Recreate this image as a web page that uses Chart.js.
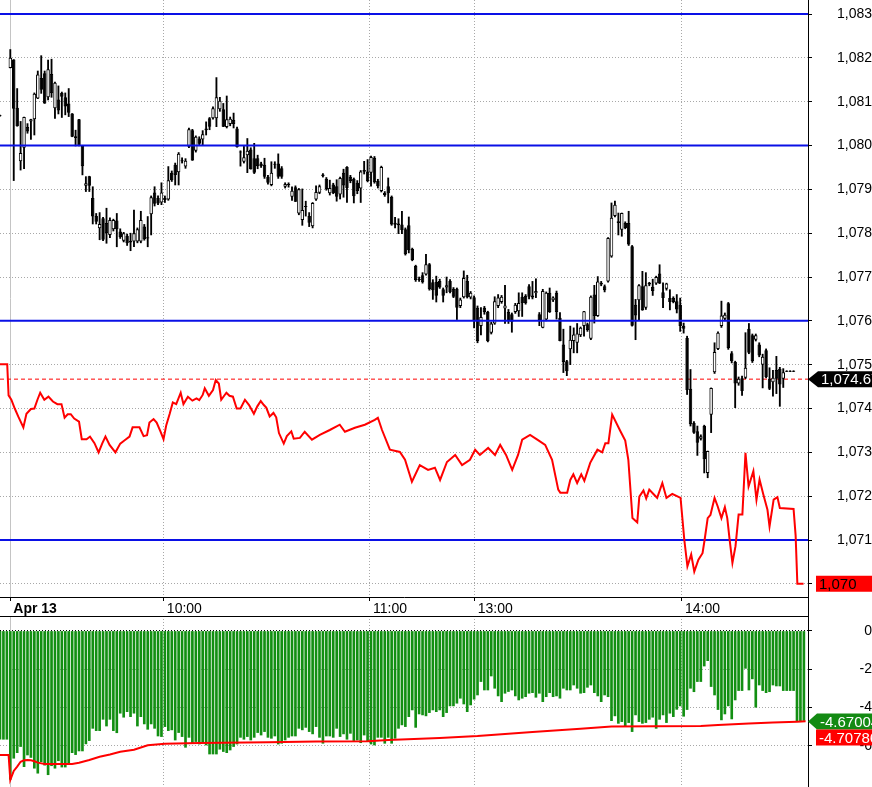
<!DOCTYPE html>
<html>
<head>
<meta charset="utf-8">
<script src="https://cdn.jsdelivr.net/npm/chart.js@4.4.0/dist/chart.umd.min.js"></script>
<style>
  html, body { margin: 0; padding: 0; background: #fff; overflow: hidden; }
  #price { position: absolute; left: 0; top: 0; }
  #osc { position: absolute; left: 0; top: 616px; }
</style>
</head>
<body>
<canvas id="price" width="872" height="616"></canvas>
<canvas id="osc" width="872" height="171"></canvas>
<script>
// time axis (bar numbers)
var timeTicks = [3, 47.7, 107.7, 138.2, 198.5];
var timeLabels = ['Apr 13', '10:00', '11:00', '13:00', '14:00'];

// price panel
var priceTicks = [1070, 1071, 1072, 1073, 1074, 1075, 1076, 1077, 1078, 1079, 1080, 1081, 1082, 1083];
var levels = [1083, 1080, 1076, 1071];
var lastPrice = 1074.67;

var openP = [
  1080.67, null, null, 1081.77, 1081.96, 1080.86, 1079.64, 1079.95, 1080.42, 1080.55,
  1080.6, 1081.07, 1081.54, 1081.65, 1081.1, 1081.63, 1080.85, 1081.05, 1081.2, 1081.1,
  1080.96, 1080.73, 1080.21, 1080.6, 1079.99, 1079.08, 1079.3, 1078.8, 1078.39, 1078.11,
  1078.34, 1078.23, 1077.96, 1078.09, 1078.29, 1078.04, 1077.83, 1077.94, 1077.79, 1077.81,
  1077.81, 1077.81, 1078.15, 1077.88, 1078.43, 1078.93, 1078.8, 1078.7, 1078.76, 1078.77,
  1079.38, 1079.56, 1079.39, 1079.66, 1079.52, 1079.97, 1080.35, 1079.88, 1080.16, 1080.14,
  1080.39, 1080.62, 1080.62, 1080.62, 1080.83, 1080.83, 1080.42, 1080.49, 1080.58, 1080.39,
  1079.86, 1079.63, 1079.78, 1079.91, 1079.71, 1079.71, 1079.59, 1079.56, 1079.29, 1079.1,
  1079.56, 1079.59, 1079.48, 1079.06, 1079.1, 1078.83, 1079.05, 1078.45, 1078.3, 1078.6,
  1078.39, 1078.16, 1078.77, 1078.92, 1079.34, 1079.24, 1078.91, 1079.11, 1079.07, 1078.88,
  1079.38, 1079.51, 1079.29, 1079.24, 1079.15, 1079.02, 1079.44, 1079.41, 1079.38, 1079.72,
  1079.19, 1078.96, 1078.92, 1079.07, 1078.83, 1078.24, 1078.22, 1078.2, 1078.09, 1078.18,
  1077.64, 1077.25, 1076.96, 1077.04, 1077.06, 1077.29, 1076.88, 1076.89, 1076.91, 1076.72,
  1076.76, 1076.91, 1076.73, 1076.73, 1076.34, 1076.54, 1076.91, 1076.53, 1076.54, 1076.3,
  1075.88, 1076.3, 1076.2, 1075.73, 1075.94, 1076.34, 1076.43, 1076.28, 1076.2, 1076.15,
  1076.2, 1076.22, 1076.55, 1076.57, 1076.79, 1076.58, 1076.63, 1076.15, 1075.84, 1076.03,
  1076.64, 1076.47, 1076.64, 1076.07, 1075.46, 1075.08, 1075.35, 1075.54, 1075.5, 1075.67,
  1075.88, 1075.92, 1075.59, 1076.6, 1076.11, 1076.83, 1076.79, 1076.9, 1077.47, 1078.39,
  1078.27, 1078.08, 1078.23, 1078.23, 1077.7, 1076.37, 1076.47, 1076.79, 1076.3, 1076.83,
  1076.78, 1076.85, 1077.08, 1076.65, 1076.73, 1076.52, 1076.52, 1076.45, 1076.37, 1075.89,
  1075.61, 1074.45, 1073.67, 1073.48, 1073.31, 1073.6, 1072.53, 1073.86, 1074.83, 1075.36,
  1075.88, 1076.05, 1076.4, 1075.26, 1075.06, 1074.57, 1074.69, 1074.7, 1075.82, 1075.67,
  1075.57, 1075.46, 1075.0, 1075.33, 1074.68, 1074.6, 1074.88, 1074.91, 1074.68, 1074.84,
  1074.84, 1074.84, null, null, null
];
var highP = [
  1080.67, null, null, 1082.19, 1081.96, 1081.3, 1080.55, 1080.65, 1080.5, 1080.6,
  1081.2, 1081.7, 1082.05, 1081.7, 1081.95, 1081.97, 1081.45, 1081.36, 1081.22, 1081.2,
  1081.3, 1080.73, 1080.35, 1080.6, 1080.0, 1079.29, 1079.3, 1079.06, 1078.45, 1078.47,
  1078.36, 1078.57, 1078.35, 1078.32, 1078.45, 1078.1, 1078.02, 1077.98, 1078.0, 1078.53,
  1078.12, 1078.5, 1078.2, 1078.38, 1078.85, 1079.06, 1078.85, 1079.15, 1078.85, 1079.52,
  1079.42, 1079.6, 1079.84, 1079.72, 1079.7, 1080.4, 1080.37, 1080.22, 1080.2, 1080.34,
  1080.54, 1080.64, 1080.88, 1081.55, 1081.1, 1080.96, 1081.13, 1080.65, 1080.74, 1080.42,
  1079.88, 1079.98, 1080.16, 1079.95, 1080.05, 1079.78, 1079.62, 1079.71, 1079.32, 1079.63,
  1079.63, 1079.81, 1079.52, 1079.15, 1079.15, 1079.06, 1079.08, 1079.02, 1079.01, 1078.73,
  1078.47, 1078.7, 1079.08, 1079.1, 1079.36, 1079.27, 1079.21, 1079.14, 1079.22, 1079.28,
  1079.46, 1079.52, 1079.32, 1079.26, 1079.2, 1079.43, 1079.64, 1079.68, 1079.76, 1079.75,
  1079.23, 1079.53, 1078.95, 1079.26, 1078.85, 1078.36, 1078.33, 1078.5, 1078.12, 1078.37,
  1077.66, 1077.27, 1077.0, 1077.1, 1077.52, 1077.31, 1076.94, 1077.02, 1076.95, 1076.75,
  1077.0, 1076.94, 1076.76, 1076.75, 1076.52, 1077.14, 1077.04, 1076.67, 1076.57, 1076.34,
  1076.3, 1076.33, 1076.22, 1075.97, 1076.55, 1076.6, 1076.58, 1076.81, 1076.26, 1076.18,
  1076.4, 1076.64, 1076.64, 1076.6, 1076.83, 1076.9, 1076.96, 1076.19, 1076.72, 1076.66,
  1076.75, 1076.55, 1076.68, 1076.19, 1075.81, 1075.1, 1075.88, 1075.84, 1075.94, 1075.86,
  1076.22, 1075.95, 1076.57, 1076.81, 1077.01, 1076.9, 1076.82, 1077.9, 1078.69, 1078.73,
  1078.46, 1078.46, 1078.26, 1078.5, 1077.72, 1076.49, 1076.83, 1077.13, 1077.1, 1076.88,
  1076.95, 1077.02, 1077.28, 1076.87, 1076.86, 1076.71, 1076.55, 1076.6, 1076.52, 1075.95,
  1075.65, 1074.89, 1073.7, 1073.6, 1073.4, 1073.62, 1073.03, 1074.47, 1075.5, 1075.75,
  1076.45, 1076.18, 1076.42, 1075.3, 1075.08, 1074.72, 1074.74, 1075.73, 1075.94, 1075.7,
  1075.7, 1075.5, 1075.24, 1075.36, 1074.93, 1074.87, 1075.19, 1074.94, 1074.91, 1074.84,
  1074.84, 1074.84, null, null, null
];
var lowP = [
  1080.67, null, null, 1081.77, 1079.2, 1080.44, 1079.44, 1079.47, 1080.28, 1080.14,
  1080.24, 1081.07, 1081.19, 1080.96, 1081.04, 1081.1, 1080.62, 1080.72, 1080.64, 1080.7,
  1080.66, 1080.2, 1079.99, 1079.99, 1079.33, 1078.95, 1078.95, 1078.21, 1078.21, 1077.85,
  1077.83, 1077.77, 1077.9, 1078.05, 1077.69, 1077.88, 1077.8, 1077.72, 1077.6, 1077.69,
  1077.78, 1077.78, 1077.84, 1077.69, 1077.96, 1078.62, 1078.65, 1078.65, 1078.7, 1078.75,
  1079.18, 1079.1, 1079.1, 1079.6, 1079.48, 1079.95, 1079.66, 1079.85, 1080.0, 1080.0,
  1080.24, 1080.36, 1080.6, 1080.43, 1080.78, 1080.43, 1080.4, 1080.45, 1080.4, 1079.96,
  1079.53, 1079.6, 1079.38, 1079.46, 1079.36, 1079.47, 1079.5, 1079.25, 1079.12, 1079.08,
  1079.48, 1079.25, 1079.25, 1079.03, 1079.05, 1078.75, 1078.72, 1078.42, 1078.18, 1078.39,
  1078.15, 1078.12, 1078.75, 1078.9, 1079.28, 1078.98, 1078.87, 1078.9, 1078.73, 1078.78,
  1078.82, 1078.7, 1079.15, 1078.69, 1078.9, 1078.7, 1079.35, 1079.17, 1079.07, 1079.14,
  1079.03, 1078.94, 1078.84, 1078.69, 1078.18, 1078.12, 1077.99, 1077.99, 1077.5, 1077.55,
  1077.37, 1076.9, 1076.9, 1076.86, 1077.04, 1076.7, 1076.49, 1076.43, 1076.74, 1076.43,
  1076.64, 1076.64, 1076.53, 1076.03, 1076.3, 1076.52, 1076.52, 1076.5, 1075.84, 1075.5,
  1075.68, 1076.15, 1075.52, 1075.7, 1075.92, 1076.3, 1076.4, 1075.94, 1075.94, 1075.74,
  1076.17, 1076.1, 1076.1, 1076.38, 1076.5, 1076.5, 1076.53, 1075.89, 1075.84, 1076.0,
  1076.19, 1076.44, 1076.04, 1075.54, 1074.82, 1074.75, 1075.0, 1075.27, 1075.27, 1075.64,
  1075.65, 1075.76, 1075.57, 1075.95, 1076.1, 1076.8, 1076.66, 1076.88, 1077.45, 1078.37,
  1077.96, 1077.93, 1078.1, 1077.72, 1075.88, 1075.57, 1076.02, 1076.24, 1076.26, 1076.8,
  1076.58, 1076.83, 1076.85, 1076.3, 1076.7, 1076.25, 1076.41, 1076.18, 1075.76, 1075.72,
  1074.32, 1073.6, 1073.43, 1072.93, 1073.28, 1072.53, 1072.42, 1073.45, 1074.8, 1075.34,
  1075.85, 1076.0, 1075.35, 1075.04, 1074.02, 1074.53, 1074.3, 1074.68, 1075.25, 1075.05,
  1075.54, 1075.18, 1074.47, 1074.7, 1074.43, 1074.28, 1074.34, 1074.05, 1074.48, 1074.84,
  1074.84, 1074.84, null, null, null
];
var closeP = [
  1080.67, null, null, 1082.0, 1080.84, 1080.44, 1079.83, 1080.65, 1080.32, 1080.6,
  1081.18, 1081.62, 1081.27, 1080.96, 1081.74, 1081.19, 1081.43, 1080.8, 1081.11, 1080.89,
  1080.75, 1080.2, 1080.17, 1079.99, 1079.53, 1079.14, 1079.08, 1078.38, 1078.26, 1078.21,
  1077.85, 1078.0, 1078.3, 1078.3, 1078.09, 1077.91, 1078.0, 1077.77, 1077.83, 1078.0,
  1078.09, 1078.3, 1077.86, 1077.91, 1078.82, 1078.67, 1078.68, 1078.93, 1078.8, 1079.21,
  1079.21, 1079.33, 1079.81, 1079.64, 1079.65, 1080.37, 1079.66, 1080.2, 1080.04, 1080.26,
  1080.35, 1080.43, 1080.85, 1081.1, 1081.02, 1080.43, 1080.6, 1080.61, 1080.49, 1079.96,
  1079.84, 1079.73, 1079.88, 1079.46, 1079.38, 1079.53, 1079.53, 1079.29, 1079.15, 1079.38,
  1079.58, 1079.29, 1079.29, 1079.12, 1079.12, 1078.97, 1078.72, 1079.0, 1078.53, 1078.62,
  1078.24, 1078.69, 1078.94, 1079.07, 1079.3, 1079.0, 1079.03, 1078.91, 1078.83, 1079.26,
  1079.09, 1079.03, 1079.19, 1078.84, 1078.96, 1079.41, 1079.4, 1079.19, 1079.74, 1079.16,
  1079.07, 1079.51, 1078.87, 1078.91, 1078.2, 1078.19, 1078.18, 1078.07, 1077.52, 1077.61,
  1077.39, 1076.93, 1076.93, 1076.88, 1077.29, 1076.72, 1076.7, 1076.57, 1076.76, 1076.57,
  1076.81, 1076.66, 1076.55, 1076.3, 1076.49, 1076.98, 1076.54, 1076.64, 1076.02, 1075.54,
  1076.09, 1076.2, 1075.54, 1075.94, 1076.45, 1076.53, 1076.55, 1076.35, 1076.0, 1075.98,
  1076.37, 1076.41, 1076.41, 1076.4, 1076.55, 1076.53, 1076.68, 1076.02, 1076.68, 1076.64,
  1076.2, 1076.53, 1076.2, 1075.54, 1075.06, 1074.85, 1075.57, 1075.69, 1075.71, 1075.84,
  1076.22, 1075.79, 1076.55, 1076.11, 1076.9, 1076.87, 1076.7, 1077.89, 1078.35, 1078.65,
  1078.23, 1078.46, 1078.12, 1077.74, 1075.89, 1076.12, 1076.81, 1076.24, 1076.81, 1076.87,
  1076.68, 1077.0, 1076.85, 1076.52, 1076.85, 1076.43, 1076.43, 1076.26, 1075.88, 1075.82,
  1074.42, 1073.64, 1073.45, 1073.22, 1073.37, 1072.84, 1073.03, 1074.47, 1075.29, 1075.73,
  1076.12, 1076.14, 1075.38, 1075.08, 1074.57, 1074.68, 1074.4, 1074.93, 1075.27, 1075.08,
  1075.67, 1075.21, 1075.18, 1074.72, 1074.45, 1074.7, 1074.68, 1074.55, 1074.83, 1074.84,
  1074.84, 1074.84, null, null, null
];

// red comparison line (bar position, value)
var lineX = [0, 2.1, 2.5, 3.3, 4.3, 5.3, 6.8, 7.7, 9, 10, 10.9, 11.7, 12.9, 14.1, 15.4, 16.7, 17.9, 18.8, 19.7, 20.6,
  21.6, 23, 23.8, 25.2, 26.2, 27.5, 28.7, 29.8, 30.7, 31.9, 33.6, 35, 36.2, 37.7, 38.6, 40.6, 41.8, 42.8, 43.5, 44.7,
  45.6, 46.7, 47.6, 48.4, 49.4, 50.3, 51.3, 52.6, 53.4, 54.7, 56, 57.2, 58, 59, 59.6, 60.8, 62, 62.8, 63.7, 64.4,
  65.9, 66.8, 67.8, 68.9, 70, 71.3, 72.5, 73.9, 74.9, 75.9, 76.8, 77.5, 78.5, 79.6, 80.4, 81.2, 82.6, 83.5, 84.8, 85.5,
  87.3, 88.7, 90.8, 93.1, 96, 98.9, 100.4, 103.3, 106.2, 109.1, 110, 111.2, 113.5, 116.4, 117.9, 119.9, 122.2, 124.6, 126.6, 128.1,
  130.1, 132.5, 134.5, 136.8, 138.3, 139.7, 142.1, 144.1, 145.6, 147.3, 149.1, 150.8, 152, 154.3, 156.4, 158.7, 160.7, 162.5, 163.1, 165.1,
  166, 166.9, 168, 169.2, 170.1, 171.8, 173.9, 175.3, 176.2, 177.1, 178.2, 180.6, 182, 182.9, 184.1, 185.5, 186.1, 187.3, 188.1, 189,
  190.2, 191.3, 192.8, 194, 195.7, 196.6, 198.1, 199.2, 200.1, 201.2, 202.1, 203.3, 204.5, 205.1, 206, 206.8, 208, 208.9, 210, 211,
  211.7, 212.4, 213.2, 214.1, 215, 216.1, 217, 217.9, 219.3, 220.2, 221.1, 222.2, 223.4, 224, 225.2, 226.3, 227, 231, 231.6, 232.1, 233.9];
var lineY = [1075.01, 1075.01, 1074.3, 1074.2, 1074.0, 1073.82, 1073.57, 1073.88, 1073.99, 1074.0, 1074.2, 1074.36, 1074.2, 1074.27, 1074.16, 1074.1, 1074.1, 1073.79, 1073.87, 1073.87,
  1073.77, 1073.7, 1073.3, 1073.3, 1073.36, 1073.21, 1073.0, 1073.21, 1073.36, 1073.17, 1073.0, 1073.2, 1073.27, 1073.36, 1073.57, 1073.57, 1073.37, 1073.39, 1073.68, 1073.76,
  1073.68, 1073.48, 1073.3, 1073.62, 1073.88, 1074.14, 1074.1, 1074.36, 1074.1, 1074.27, 1074.18, 1074.23, 1074.19, 1074.31, 1074.46, 1074.29, 1074.42, 1074.65, 1074.57, 1074.2,
  1074.36, 1074.29, 1074.27, 1074.0, 1074.0, 1074.2, 1074.08, 1073.88, 1074.05, 1074.17, 1074.08, 1074.02, 1073.82, 1073.9, 1073.8, 1073.44, 1073.2, 1073.37, 1073.48, 1073.31,
  1073.33, 1073.47, 1073.29, 1073.4, 1073.51, 1073.63, 1073.47, 1073.56, 1073.63, 1073.74, 1073.79, 1073.51, 1073.06, 1073.01, 1072.83, 1072.33, 1072.71, 1072.6, 1072.65, 1072.37,
  1072.78, 1072.94, 1072.71, 1072.83, 1073.06, 1072.94, 1073.1, 1072.94, 1073.17, 1072.94, 1072.6, 1072.94, 1073.29, 1073.4, 1073.29, 1073.17, 1072.83, 1072.15, 1072.08, 1072.08,
  1072.37, 1072.5, 1072.3, 1072.5, 1072.35, 1072.76, 1073.06, 1073.0, 1073.21, 1073.21, 1073.86, 1073.48, 1073.27, 1072.83, 1071.5, 1071.4, 1071.99, 1072.13, 1071.95, 1072.15,
  1072.05, 1071.96, 1072.3, 1071.96, 1072.05, 1072.02, 1071.96, 1071.0, 1070.4, 1070.67, 1070.28, 1070.55, 1070.7, 1071.0, 1071.5, 1071.57, 1071.96, 1071.77, 1071.5, 1071.75,
  1071.5, 1071.0, 1070.48, 1070.86, 1071.58, 1071.58, 1072.99, 1072.22, 1072.57, 1071.92, 1072.38, 1072.04, 1071.69, 1071.31, 1071.92, 1071.98, 1071.73, 1071.71, 1071.1, 1070.0, 1070.0];

// oscillator panel
var oscTicks = [0, -2, -4, -6];
var oscBars = [
  -5.65, -5.65, -5.65, -7.74, -6.64, -6.35, -6.03, -7.08, -6.47, -6.6,
  -7.16, -7.42, -6.82, -7.0, -7.5, -7.03, -7.16, -6.77, -7.1, -7.1,
  -6.87, -6.35, -6.45, -6.26, -6.26, -5.89, -5.72, -5.08, -5.2, -5.2,
  -4.61, -4.96, -4.61, -5.2, -5.31, -4.29, -4.5, -4.21, -4.47, -4.29,
  -4.96, -4.47, -4.85, -5.13, -4.85, -5.08, -5.48, -5.51, -4.99, -5.2,
  -5.16, -5.69, -5.3, -5.51, -6.07, -5.55, -5.86, -5.77, -5.9, -5.83,
  -5.95, -6.42, -6.42, -6.42, -6.17, -6.29, -6.35, -6.21, -6.03, -5.9,
  -5.55, -5.65, -5.51, -5.69, -5.55, -5.3, -5.43, -5.25, -5.55, -5.6,
  -5.48, -5.9, -5.86, -5.69, -5.55, -5.48, -5.48, -5.08, -5.16, -5.03,
  -5.25, -5.37, -4.99, -5.55, -5.86, -5.48, -5.48, -5.55, -5.08, -5.51,
  -5.37, -5.65, -5.34, -5.72, -5.69, -5.83, -5.43, -5.77, -5.9, -5.95,
  -5.55, -5.55, -5.86, -5.55, -5.86, -5.6, -5.08, -4.9, -4.99, -4.47,
  -4.12, -5.03, -4.33, -4.38, -4.43, -4.26, -4.12, -4.21, -4.12, -4.47,
  -4.26, -3.91, -3.91, -3.77, -3.51, -3.81, -4.21, -3.86, -3.56, -3.34,
  -2.64, -3.08, -3.08, -2.35, -2.99, -3.39, -3.69, -3.25, -3.16, -3.08,
  -3.39, -3.6, -3.51, -3.43, -3.25, -3.22, -3.46, -3.25, -3.69, -3.43,
  -3.22, -3.43, -3.39, -3.51, -2.99, -3.08, -3.08, -2.82, -2.99, -3.25,
  -3.22, -2.94, -2.82, -3.22, -3.39, -3.69, -3.34, -3.43, -4.68, -4.43,
  -4.82, -4.73, -4.99, -4.78, -5.25, -4.38, -4.73, -4.82, -4.78, -4.61,
  -4.5, -5.08, -4.61, -4.38, -4.78, -4.29, -4.47, -4.09, -3.91, -4.45,
  -4.1, -2.99, -3.17, -2.64, -2.64, -1.83, -1.55, -2.9, -3.34, -4.1,
  -4.64, -4.33, -3.91, -4.59, -3.6, -3.11, -3.11, -1.95, -3.08, -2.5,
  -3.98, -2.82, -3.11, -3.22, -3.17, -2.82, -2.87, -2.87, -3.11, -3.11,
  -3.11, -3.11, -4.68, -4.68, -4.67004
];
var avgX = [0, 2.5, 3, 4, 5, 6, 7, 8, 9, 10, 11, 13, 21, 23, 26, 29, 32, 35, 39, 43,
  48, 58, 78, 92, 107, 113, 128, 139, 155, 169, 178, 204, 209, 218, 225, 232, 234.5];
var avgY = [-6.47, -6.47, -7.77, -7.3, -7.08, -6.82, -6.75, -6.73, -6.75, -6.8, -6.87, -6.94, -6.94, -6.87, -6.73, -6.56, -6.44, -6.3, -6.2, -5.96,
  -5.89, -5.84, -5.8, -5.77, -5.75, -5.69, -5.58, -5.48, -5.27, -5.1, -4.99, -4.96, -4.9, -4.83, -4.78, -4.73, -4.70786];

var xMax = 235.2;
var font = 'Liberation Sans, Arial, sans-serif';

function fmtPrice(v, dec) {
  var s = v.toFixed(dec);
  return s.charAt(0) + ',' + s.slice(1);
}

function pts(xs, ys) {
  var out = [];
  for (var i = 0; i < xs.length; i++) out.push({x: xs[i], y: ys[i]});
  return out;
}

// no label padding around the plot area
function noPad(s) {
  s.paddingTop = 0;
  s.paddingBottom = 0;
  s.paddingLeft = 0;
  s.paddingRight = 0;
}

function tag(ctx, left, y, text, fill, color, arrowFrom) {
  ctx.save();
  ctx.fillStyle = fill;
  ctx.beginPath();
  if (arrowFrom != null) {
    ctx.moveTo(arrowFrom, y);
    ctx.lineTo(left, y - 8);
  } else {
    ctx.moveTo(left, y - 8);
  }
  ctx.lineTo(872, y - 8);
  ctx.lineTo(872, y + 8);
  ctx.lineTo(left, y + 8);
  ctx.closePath();
  ctx.fill();
  ctx.fillStyle = color;
  ctx.font = '15px ' + font;
  ctx.textBaseline = 'middle';
  ctx.textAlign = 'left';
  ctx.fillText(text, left + 3, y + 1);
  ctx.restore();
}

function xAxis(showLabels) {
  return {
    type: 'linear',
    min: 0,
    max: xMax,
    offset: false,
    position: 'bottom',
    afterBuildTicks: function(s) { s.ticks = timeTicks.map(function(v) { return {value: v}; }); },
    afterFit: function(s) { s.height = showLabels ? 19 : 0; noPad(s); },
    grid: {
      offset: false,
      color: function(c) { return c.index === 0 ? '#c4c4c4' : '#a8a8a8'; },
      drawTicks: showLabels,
      tickLength: 4,
      tickColor: '#000'
    },
    border: {
      display: showLabels,
      color: '#000',
      dash: function(c) { return c.index === 0 ? [] : [1, 2]; }
    },
    ticks: {
      display: showLabels,
      autoSkip: false,
      maxRotation: 0,
      align: 'start',
      labelOffset: 3,
      padding: 0,
      color: '#000',
      font: function(c) { return {family: font, size: 14, weight: c.index === 0 ? 'bold' : 'normal'}; },
      callback: function(v, i) { return timeLabels[i]; }
    }
  };
}

// candle pieces
var bodies = [], wicks = [], bodyColors = [];
for (var i = 0; i < openP.length; i++) {
  if (openP[i] == null) continue;
  bodies.push({x: i, y: [openP[i], closeP[i]]});
  wicks.push({x: i, y: [lowP[i], highP[i]]});
  bodyColors.push(closeP[i] >= openP[i] ? '#ffffff' : '#000000');
}

var priceSets = [
  {type: 'line', data: pts(lineX, lineY), borderColor: '#ff0000', borderWidth: 2, pointRadius: 0, tension: 0, order: 0},
  {type: 'bar', data: bodies, backgroundColor: bodyColors, borderColor: '#000', borderWidth: 1, borderSkipped: false,
    barThickness: 3.5, minBarLength: 1, grouped: false, inflateAmount: 0, order: 2},
  {type: 'bar', data: wicks, backgroundColor: '#000', borderWidth: 0, barThickness: 1.2, minBarLength: 1, grouped: false, order: 3},
  {type: 'line', data: [{x: 0, y: lastPrice}, {x: xMax, y: lastPrice}], borderColor: '#ff0000', borderWidth: 1,
    borderDash: [4, 3], pointRadius: 0, order: 4}
];
levels.forEach(function(lv) {
  priceSets.push({type: 'line', data: [{x: 0, y: lv}, {x: xMax, y: lv}], borderColor: '#0a10e6', borderWidth: 2, pointRadius: 0, order: 1});
});

var priceTags = {
  id: 'priceTags',
  afterDraw: function(chart) {
    var ctx = chart.ctx, a = chart.chartArea, y = chart.scales.y;
    ctx.save();
    ctx.strokeStyle = '#000';
    ctx.lineWidth = 1;
    ctx.beginPath();
    ctx.moveTo(a.right + 0.5, a.bottom);
    ctx.lineTo(a.right + 0.5, chart.height);
    ctx.stroke();
    ctx.restore();
    tag(ctx, a.right + 10, y.getPixelForValue(lastPrice), fmtPrice(lastPrice, 2), '#000000', '#ffffff', a.right);
    var endVal = lineY[lineY.length - 1];
    tag(ctx, a.right + 8, y.getPixelForValue(endVal), fmtPrice(endVal, 0), '#ff0000', '#000000', null);
  }
};

new Chart(document.getElementById('price'), {
  type: 'bar',
  data: {datasets: priceSets},
  options: {
    responsive: false,
    animation: false,
    devicePixelRatio: 1,
    layout: {padding: 0, autoPadding: false},
    plugins: {legend: {display: false}, tooltip: {enabled: false}},
    scales: {
      x: xAxis(true),
      y: {
        type: 'linear',
        position: 'right',
        min: 1069.7,
        max: 1083.32,
        afterBuildTicks: function(s) { s.ticks = priceTicks.map(function(v) { return {value: v}; }); },
        afterFit: function(s) { s.width = 64; noPad(s); },
        grid: {color: '#a8a8a8', tickLength: 4, tickColor: '#000'},
        border: {color: '#000', dash: [1, 2]},
        ticks: {
          crossAlign: 'far',
          color: '#000',
          font: {family: font, size: 14},
          callback: function(v) { return fmtPrice(v, 0); }
        }
      }
    }
  },
  plugins: [priceTags]
});

var oscTags = {
  id: 'oscTags',
  afterDraw: function(chart) {
    var ctx = chart.ctx, a = chart.chartArea, y = chart.scales.y;
    ctx.save();
    ctx.strokeStyle = '#000';
    ctx.lineWidth = 1;
    ctx.beginPath();
    ctx.moveTo(0, a.top + 0.5);
    ctx.lineTo(a.right, a.top + 0.5);
    ctx.stroke();
    ctx.restore();
    var last = oscBars[oscBars.length - 1];
    var gy = y.getPixelForValue(last) + 1;
    tag(ctx, a.right + 9, gy, last.toFixed(5), '#138a13', '#ffffff', a.right);
    tag(ctx, a.right + 8, gy + 16, avgY[avgY.length - 1].toFixed(5), '#ff0000', '#ffffff', null);
  }
};

new Chart(document.getElementById('osc'), {
  type: 'bar',
  data: {
    datasets: [
      {type: 'line', data: pts(avgX, avgY), borderColor: '#ff0000', borderWidth: 2, pointRadius: 0, tension: 0, order: 0},
      {type: 'bar', data: oscBars.map(function(v, i) { return {x: i, y: v}; }), backgroundColor: '#128f12',
        barThickness: 2, grouped: false, order: 1}
    ]
  },
  options: {
    responsive: false,
    animation: false,
    devicePixelRatio: 1,
    layout: {padding: 0, autoPadding: false},
    plugins: {legend: {display: false}, tooltip: {enabled: false}},
    scales: {
      x: xAxis(false),
      y: {
        type: 'linear',
        position: 'right',
        min: -8.14,
        max: 0.78,
        afterBuildTicks: function(s) { s.ticks = oscTicks.map(function(v) { return {value: v}; }); },
        afterFit: function(s) { s.width = 64; noPad(s); },
        grid: {
          color: function(c) { return c.tick && c.tick.value === 0 ? '#000' : '#a8a8a8'; },
          tickLength: 4,
          tickColor: '#000'
        },
        border: {color: '#000', dash: [1, 2]},
        ticks: {
          crossAlign: 'far',
          color: '#000',
          font: {family: font, size: 14},
          callback: function(v) { return String(v); }
        }
      }
    }
  },
  plugins: [oscTags]
});
</script>
</body>
</html>
